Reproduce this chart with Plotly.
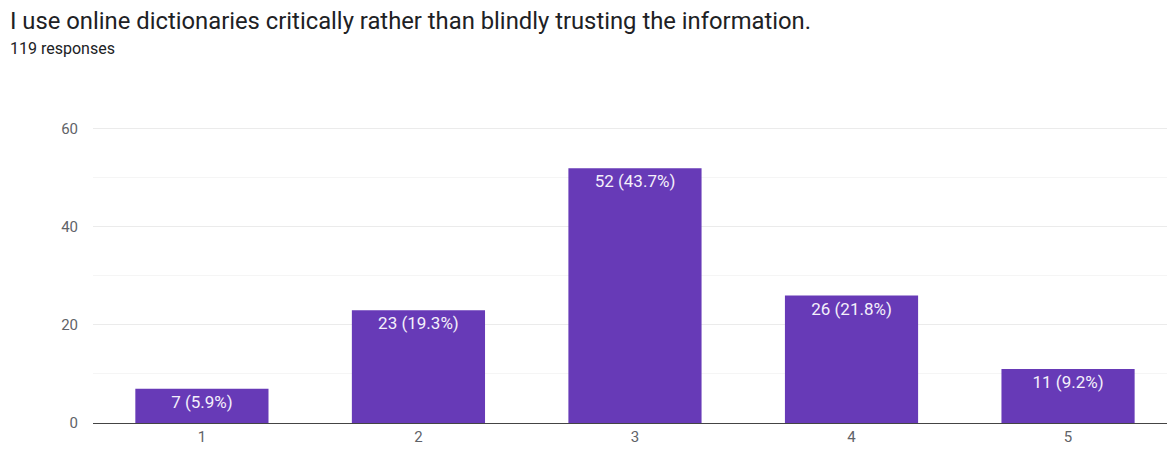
import plotly.graph_objects as go

# Survey answers on a 1-5 scale
categories = ["1", "2", "3", "4", "5"]
counts = [7, 23, 52, 26, 11]
total_responses = 119
y_ticks = [0, 20, 40, 60]

labels = [f"{c} ({c / total_responses * 100:.1f}%)" for c in counts]

W, H = 1167, 452
L, R, T, B = 93, 0, 126, 29
FONT = "Roboto, Arial, sans-serif"

fig = go.Figure(
    go.Bar(
        x=list(range(len(categories))),
        y=counts,
        text=labels,
        textposition="inside",
        insidetextanchor="end",
        textangle=0,
        textfont=dict(color="#f4f0fb", size=17, family=FONT),
        marker=dict(color="#673ab7", line=dict(width=0)),
        width=0.615,
        cliponaxis=False,
    )
)

fig.update_layout(
    width=W,
    height=H,
    margin=dict(l=L, r=R, t=T, b=B),
    paper_bgcolor="#ffffff",
    plot_bgcolor="#ffffff",
    showlegend=False,
    font=dict(family=FONT, color="#666666"),
    uniformtext=dict(minsize=8, mode="show"),
)

fig.update_xaxes(
    range=[-0.503, 4.457],
    tickvals=list(range(len(categories))),
    ticktext=categories,
    showgrid=False,
    showline=True,
    linecolor="#444444",
    linewidth=1,
    ticks="",
    tickfont=dict(size=15, color="#5f6368"),
    zeroline=False,
)

fig.update_yaxes(
    range=[0, 60.6],
    tickvals=y_ticks,
    showgrid=True,
    gridcolor="#ebebeb",
    gridwidth=1,
    zeroline=False,
    ticks="",
    ticklabelstandoff=14,
    tickfont=dict(size=15, color="#5f6368"),
    minor=dict(dtick=10, showgrid=True, gridcolor="#f5f5f5"),
)

# Question heading and response count
x0 = -(L - 8) / (W - L - R)
fig.add_annotation(
    text="I use online dictionaries critically rather than blindly trusting the information.",
    xref="paper", yref="paper",
    x=x0, y=1 + (T - 21) / (H - T - B),
    xanchor="left", yanchor="middle",
    showarrow=False,
    font=dict(size=23.8, color="#202124", family=FONT),
)
fig.add_annotation(
    text="119 responses",
    xref="paper", yref="paper",
    x=x0, y=1 + (T - 48) / (H - T - B),
    xanchor="left", yanchor="middle",
    showarrow=False,
    font=dict(size=16, color="#202124", family=FONT),
)

fig.write_html("out.html")
